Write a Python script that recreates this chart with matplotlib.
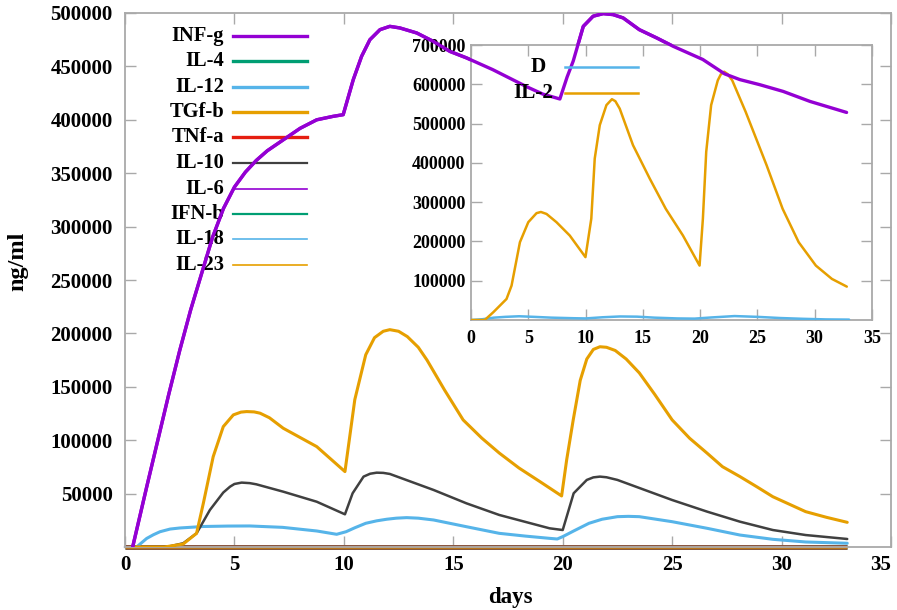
import matplotlib
matplotlib.use('Agg')
import matplotlib.pyplot as plt

plt.rcParams['font.family'] = ['Liberation Serif', 'DejaVu Serif']
plt.rcParams['font.weight'] = 'bold'

# ---------------- data (main panel) ----------------
infg_t = [0.35, 1.0, 1.5, 2.0, 2.5, 3.0, 3.5, 4.0, 4.5, 5.0, 5.5, 6.0, 6.5, 7.0, 7.5, 8.0,
          8.76, 9.5, 9.97, 10.43, 10.81, 11.19, 11.65, 12.1, 12.56, 13.33, 14.08, 14.85,
          15.6, 16.8, 18.35, 19.1, 19.87, 20.2, 20.48, 20.94, 21.39, 21.85, 22.3, 22.76,
          23.5, 24.3, 25.05, 26.4, 27.4, 28.1, 29.0, 30.07, 31.3, 32.97]
infg_v = [0, 57000, 100000, 143000, 184000, 222000, 256000, 290000, 317000, 337000, 351000,
          362000, 371000, 378000, 385000, 392000, 400000, 403200, 404800, 437600, 459400,
          475000, 484400, 487500, 486000, 481300, 473500, 464000, 458000, 447000, 431000,
          424000, 419500, 440000, 455000, 487500, 497000, 499400, 498500, 495400, 484400,
          476600, 468800, 456500, 443000, 437600, 432900, 426600, 417200, 406900]

il12_t = [0.53, 0.99, 1.3, 1.6, 2.06, 2.5, 3.58, 4.7, 5.7, 7.2, 8.76, 9.67, 10.1, 10.5, 11.0,
          11.5, 11.96, 12.4, 12.87, 13.4, 14.1, 15.6, 17.1, 18.3, 19.4, 19.75, 20.0, 20.5,
          21.2, 21.8, 22.5, 23.0, 23.5, 25.0, 26.6, 28.1, 29.6, 31.1, 33.0]
il12_v = [0, 8000, 11500, 14300, 16800, 17800, 19200, 19600, 19700, 18400, 15000, 11900,
          14300, 18000, 22200, 24500, 26000, 27000, 27500, 27000, 25300, 19000, 12800, 10200,
          8100, 7500, 9700, 15000, 22200, 26000, 28400, 28700, 28400, 23700, 17500, 11200,
          7200, 4700, 3500]

il10_t = [0.35, 1.9, 2.66, 3.27, 3.88, 4.49, 4.8, 5.0, 5.33, 5.7, 6.0, 7.23, 8.76, 10.05,
          10.4, 10.9, 11.2, 11.5, 11.8, 12.1, 14.1, 15.6, 17.1, 19.4, 20.0, 20.5, 21.1, 21.4,
          21.7, 22.0, 22.5, 25.0, 26.6, 28.1, 29.6, 31.1, 33.0]
il10_v = [0, 0, 3500, 12800, 34700, 51000, 56500, 59000, 60300, 59800, 58700, 51800, 42400,
          30600, 50300, 65900, 68600, 69600, 69400, 68400, 53400, 40900, 30000, 17500, 15900,
          50300, 62800, 65200, 65900, 65300, 62800, 44000, 33100, 23700, 15900, 11200, 7500]

tgfb_t = [0.35, 1.8, 2.66, 3.27, 3.58, 4.03, 4.49, 4.95, 5.3, 5.56, 5.9, 6.17, 6.6, 7.23,
          8.76, 10.05, 10.5, 11.0, 11.4, 11.8, 12.1, 12.5, 12.9, 13.4, 13.8, 14.6, 15.45,
          16.3, 17.1, 18.0, 18.96, 19.95, 20.18, 20.48, 20.8, 21.1, 21.4, 21.7, 22.0, 22.4,
          22.9, 23.5, 24.2, 25.0, 25.8, 26.6, 27.3, 28.1, 28.86, 29.6, 31.1, 32.05, 33.0]
tgfb_v = [0, 0, 2800, 12800, 41000, 84600, 112700, 123700, 126300, 126800, 126500, 125300,
          121000, 111200, 94000, 70600, 138000, 180000, 196000, 202000, 203500, 202000,
          197000, 187000, 175000, 147000, 119000, 102000, 88000, 74000, 61200, 47800, 81500,
          119000, 156000, 176000, 185000, 187500, 187000, 184000, 176000, 163000, 143000,
          119000, 101800, 87800, 75200, 65900, 56500, 47100, 33100, 27800, 23100]

zero_t = [0, 33.0]
zero_v = [0, 0]

# ---------------- data (inset) ----------------
il2_t = [0, 1.2, 1.94, 3.1, 3.54, 4.27, 5.0, 5.72, 6.1, 6.59, 7.46, 8.62, 9.99, 10.5, 10.8,
         11.24, 11.82, 12.3, 12.6, 12.98, 14.14, 15.6, 17.0, 18.5, 19.95, 20.24, 20.53, 20.96,
         21.54, 21.8, 22.1, 22.4, 22.8, 23.97, 25.8, 27.2, 28.6, 30.1, 31.5, 32.8]
il2_v = [0, 0, 19600, 53500, 87500, 198000, 249000, 272000, 275000, 270000, 249000, 215000,
         160000, 258000, 411000, 496000, 547000, 562000, 557000, 538000, 445000, 360000,
         283000, 215000, 138500, 258000, 428000, 547000, 610000, 625000, 632000, 626000,
         610000, 530000, 394000, 283000, 198000, 138500, 104600, 85000]

d_t = [0, 1, 2, 3, 4.2, 5.5, 7, 9, 10, 11.5, 13, 14.5, 16, 18, 19.5, 21, 23, 25, 27, 29, 31, 33]
d_v = [0, 2000, 6000, 8000, 9500, 8000, 6000, 4500, 4000, 7000, 9000, 8500, 6000, 4000, 3500,
       6500, 10000, 8000, 5000, 3000, 1500, 1000]

main_xticks = [0, 5, 10, 15, 20, 25, 30, 35]
main_yticks = [50000, 100000, 150000, 200000, 250000, 300000, 350000, 400000, 450000, 500000]
inset_xticks = [0, 5, 10, 15, 20, 25, 30, 35]
inset_yticks = [100000, 200000, 300000, 400000, 500000, 600000, 700000]

# ---------------- colours ----------------
PURPLE = '#9400d3'
GREEN = '#009e73'
BLUE = '#56b4e9'
ORANGE = '#e69f00'
RED = '#e51e10'
GRAY = '#404040'
SPINE = '#a9a9a9'

W, H = 897, 610
fig = plt.figure(figsize=(W / 100, H / 100), dpi=100)

ax = fig.add_axes([125 / W, (H - 547) / H, 766 / W, 534 / H])

# zero-valued series (they overlap along the bottom)
ax.plot(zero_t, zero_v, color=GREEN, lw=3.5, solid_capstyle='butt', clip_on=False, zorder=2)
ax.plot(zero_t, zero_v, color=PURPLE, lw=1.5, clip_on=False, zorder=2)
ax.plot(zero_t, zero_v, color=GREEN, lw=1.5, clip_on=False, zorder=2)
ax.plot(zero_t, zero_v, color=BLUE, lw=1.5, clip_on=False, zorder=2)
ax.plot(zero_t, zero_v, color=RED, lw=3.5, alpha=0.6, solid_capstyle='butt', clip_on=False, zorder=2)
ax.plot(zero_t, zero_v, color=ORANGE, lw=2.2, alpha=0.5, solid_capstyle='butt', clip_on=False, zorder=2)

kw = dict(solid_joinstyle='round', solid_capstyle='round')
ax.plot(il12_t, il12_v, color=BLUE, lw=2.2, zorder=3, **kw)
ax.plot(il10_t, il10_v, color=GRAY, lw=1.8, zorder=3, **kw)
ax.plot(tgfb_t, tgfb_v, color=ORANGE, lw=2.2, zorder=3, **kw)
ax.plot(infg_t, infg_v, color=PURPLE, lw=2.4, zorder=4, **kw)

ax.set_xlim(0, 35)
ax.set_ylim(0, 500000)
ax.set_xticks(main_xticks)
ax.set_xticklabels([str(v) for v in main_xticks])
ax.set_yticks(main_yticks)
ax.set_yticklabels([str(v) for v in main_yticks])
ax.tick_params(axis='both', direction='in', length=8, width=1, color=SPINE,
               top=True, right=True, labelsize=15)
ax.tick_params(axis='x', pad=6)
ax.tick_params(axis='y', pad=9)
ax.get_xticklabels()[-1].set_horizontalalignment('right')
for s in ax.spines.values():
    s.set_color(SPINE)
    s.set_linewidth(1.3)

# legend (gnuplot style: right-aligned text, line sample after it)
legend_items = [('INF-g', PURPLE, 2.4), ('IL-4', GREEN, 2.4), ('IL-12', BLUE, 2.4),
                ('TGf-b', ORANGE, 2.4), ('TNf-a', RED, 2.4), ('IL-10', GRAY, 1.6),
                ('IL-6', PURPLE, 1.2), ('IFN-b', GREEN, 1.6), ('IL-18', BLUE, 1.2),
                ('IL-23', ORANGE, 1.2)]
row_px = [35.7, 61, 86.7, 112.3, 137.3, 163, 188.7, 213.7, 239, 265]
for (lab, col, lw), py in zip(legend_items, row_px):
    yy = (547 - py) / 534
    ax.text((224 - 125) / 766, yy, lab, transform=ax.transAxes, ha='right', va='center',
            fontsize=14.8, fontweight='bold', zorder=6)
    ax.plot([(233 - 125) / 766, (307 - 125) / 766], [yy, yy], transform=ax.transAxes,
            color=col, lw=lw, zorder=6, clip_on=False)

# ---------------- inset ----------------
ax2 = fig.add_axes([471 / W, (H - 320) / H, 401 / W, 275 / H])
ax2.plot(d_t, d_v, color=BLUE, lw=1.8, zorder=3, **kw)
ax2.plot(il2_t, il2_v, color=ORANGE, lw=1.8, zorder=3, **kw)
ax2.set_xlim(0, 35)
ax2.set_ylim(0, 700000)
ax2.set_xticks(inset_xticks)
ax2.set_xticklabels([str(v) for v in inset_xticks])
ax2.set_yticks(inset_yticks)
ax2.set_yticklabels([str(v) for v in inset_yticks])
ax2.tick_params(axis='both', direction='in', length=8, width=1, color=SPINE,
                top=True, right=True, labelsize=13)
ax2.tick_params(axis='x', pad=7)
ax2.tick_params(axis='y', pad=4)
for s in ax2.spines.values():
    s.set_color(SPINE)
    s.set_linewidth(1.3)

# the INF-g curve of the main panel runs over the inset
ov, = ax2.plot(infg_t, infg_v, color=PURPLE, lw=2.4, transform=ax.transData, zorder=5, **kw)
ov.set_clip_box(ax.bbox)

inset_legend = [('D', BLUE, 546), ('IL-2', ORANGE, 553)]
inset_rows = [67, 92.7]
for (lab, col, xr), py in zip(inset_legend, inset_rows):
    yy = (320 - py) / 275
    ax2.text((xr - 471) / 401, yy, lab, transform=ax2.transAxes, ha='right', va='center',
             fontsize=15.3, fontweight='bold', zorder=6)
    ax2.plot([(565 - 471) / 401, (638 - 471) / 401], [yy, yy], transform=ax2.transAxes,
             color=col, lw=1.8, zorder=6, clip_on=False)

fig.text(18 / W, 1 - 261 / H, 'ng/ml', rotation=90, ha='center', va='center',
         fontsize=17.5, fontweight='bold')
fig.text(510 / W, 1 - 598 / H, 'days', ha='center', va='center',
         fontsize=16.5, fontweight='bold')

fig.savefig('out.png', dpi=100)
